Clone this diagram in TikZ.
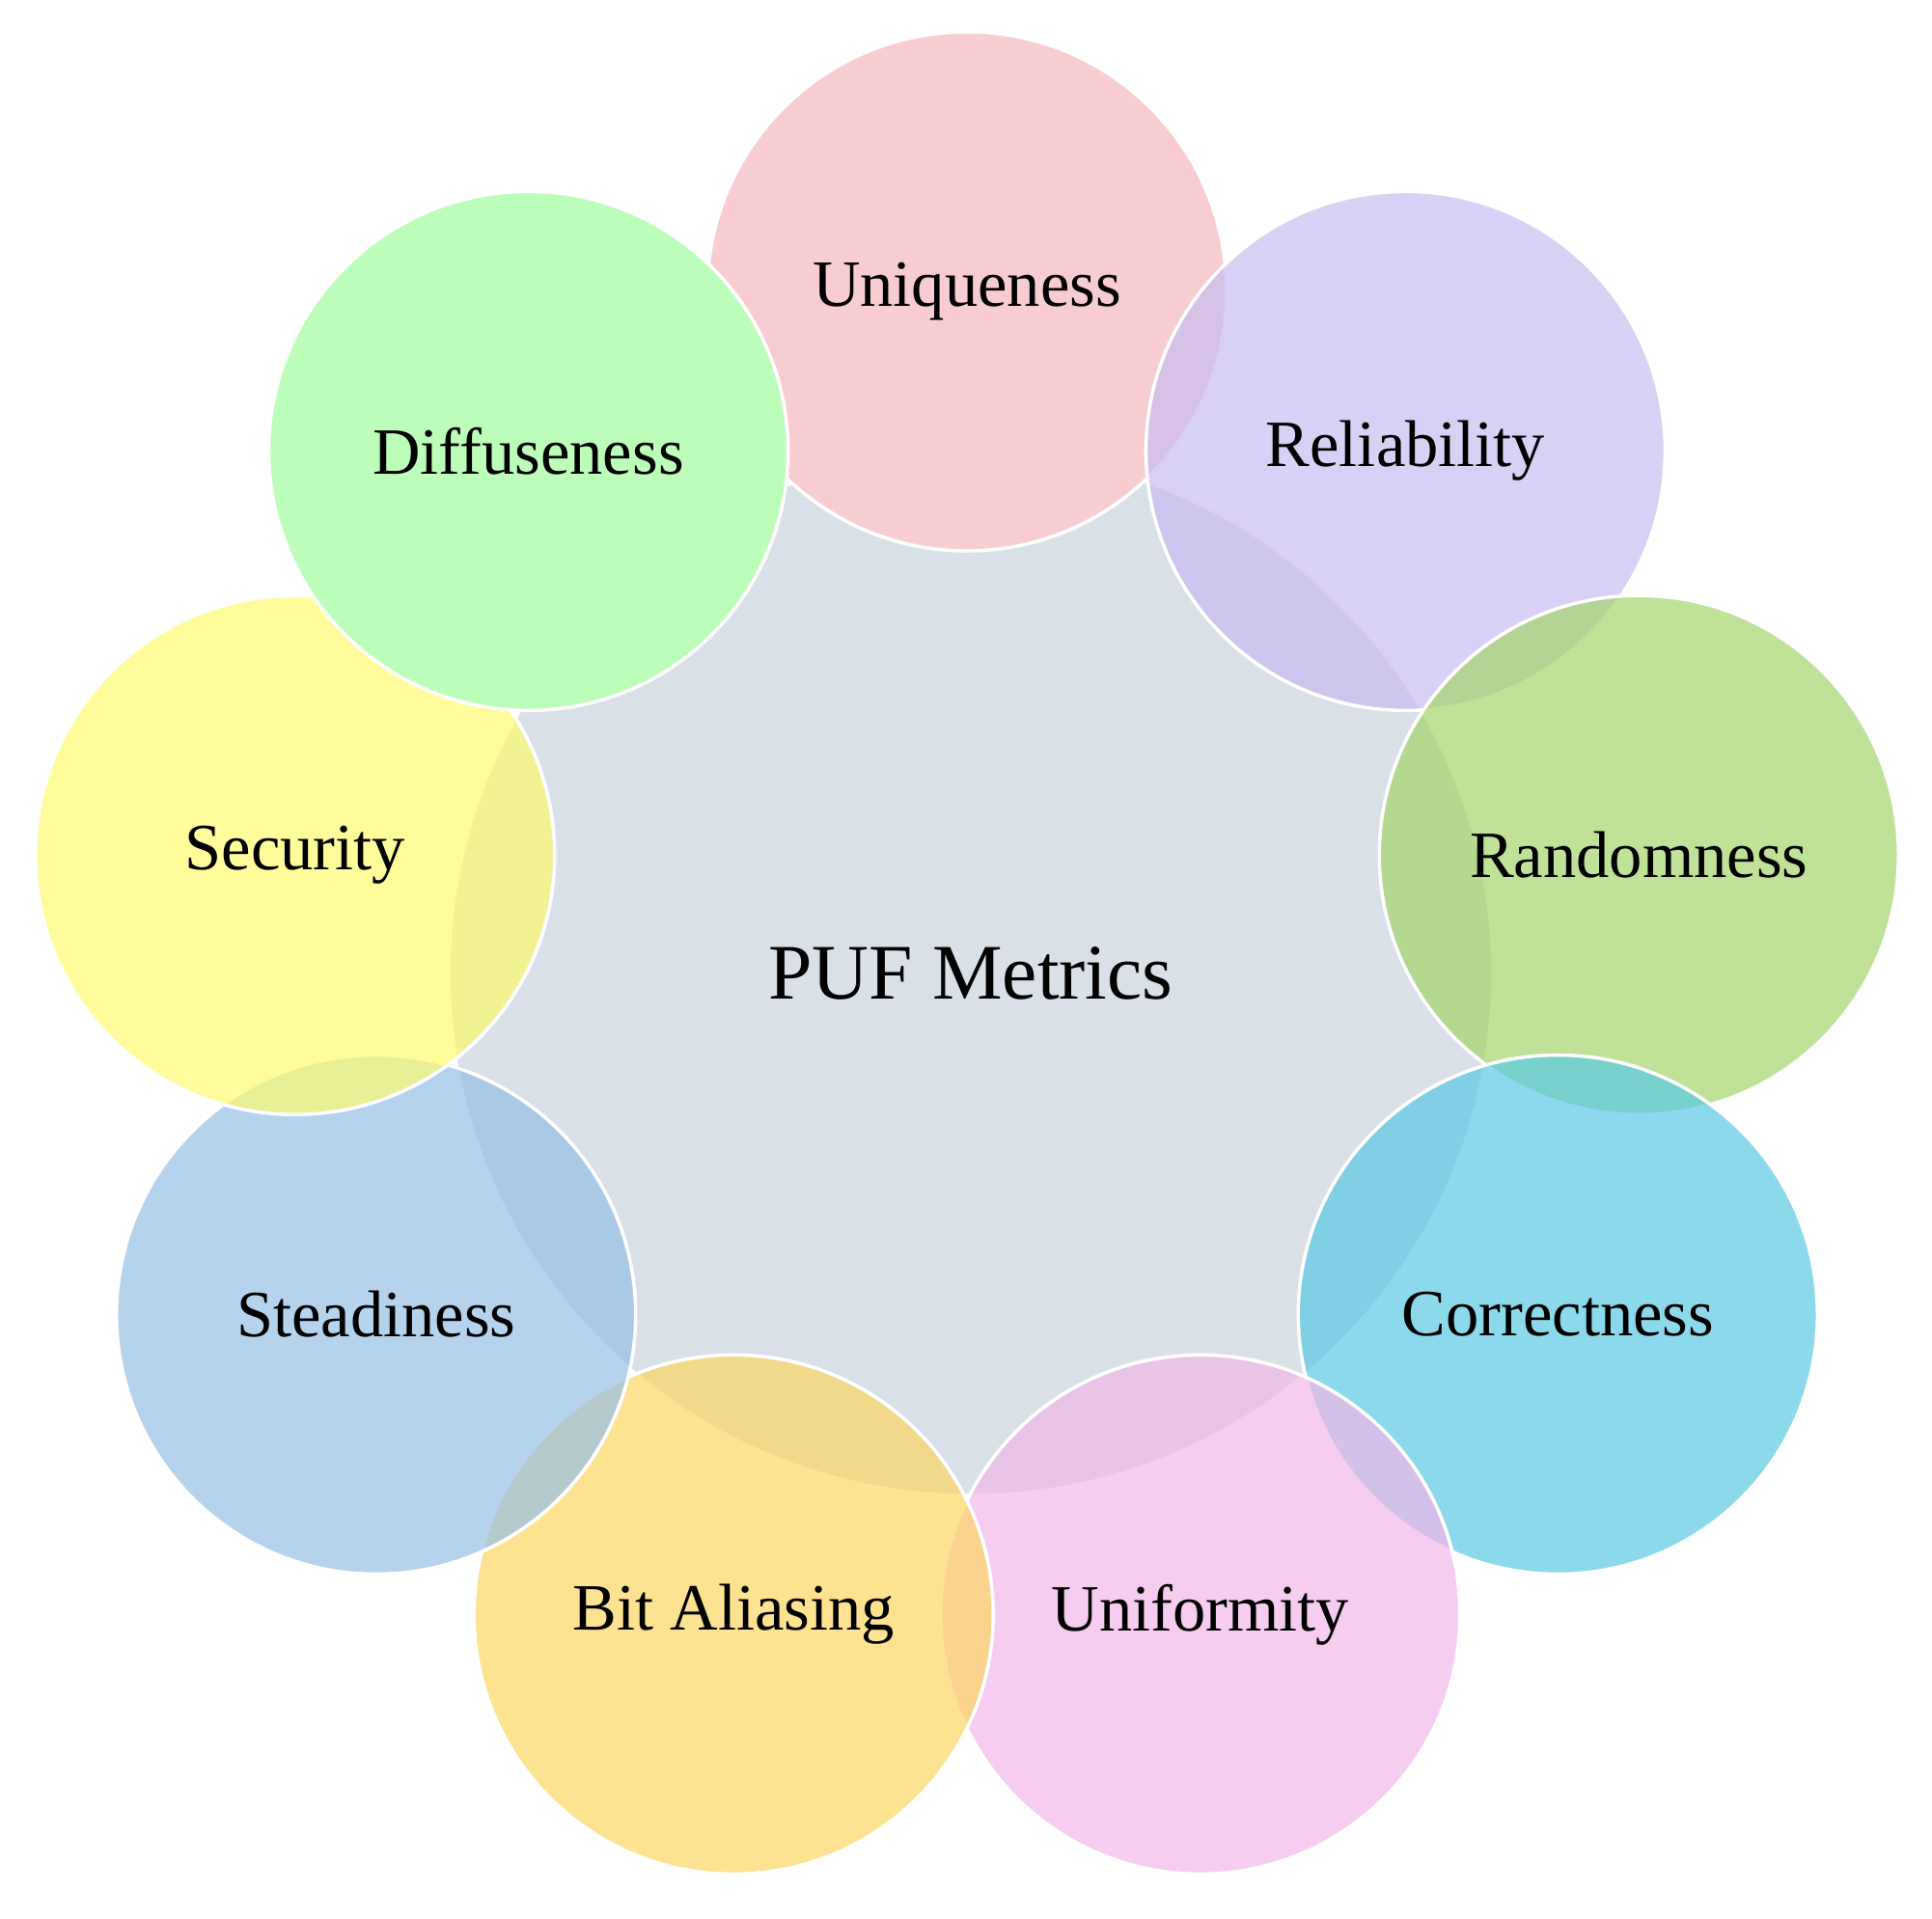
\documentclass[tikz,border=0pt]{standalone}
\usepackage{fontspec}
\setmainfont{Liberation Serif}
\usetikzlibrary{calc}
\definecolor{cCenter}{RGB}{218,224,232}
\definecolor{cUniq}{RGB}{248,205,210}
\definecolor{cReli}{RGB}{201,188,241}
\definecolor{cRand}{RGB}{165,214,108}
\definecolor{cCorr}{RGB}{91,201,228}
\definecolor{cUnif}{RGB}{242,184,234}
\definecolor{cBit}{RGB}{252,214,99}
\definecolor{cStea}{RGB}{151,192,231}
\definecolor{cSecu}{RGB}{255,251,112}
\definecolor{cDiff}{RGB}{188,254,185}
\tikzset{
  petal/.style={circle, minimum size=5.38cm, inner sep=0pt, draw=white, line width=1pt,
    font=\fontsize{19.5pt}{23pt}\selectfont, text=black, text opacity=1},
  seethru/.style={fill opacity=0.7, draw opacity=1},
  hub/.style={circle, minimum size=10.82cm, inner sep=0pt, draw=white, line width=1pt,
    fill=cCenter, font=\fontsize{23.2pt}{27pt}\selectfont}
}
\begin{document}
\begin{tikzpicture}
\useasboundingbox (0,0) rectangle (20.02,-19.89);
\coordinate (O) at (10.02,-10.09);
\node[hub] (center) at ($(O)+(0.04,0)$) {PUF Metrics};
\node[petal, fill=cUniq] (uniq) at ($(O)+(90:7.07)$) {Uniqueness};
\node[petal, seethru, fill=cReli] (reli) at ($(O)+(50:7.07)$) {Reliability};
\node[petal, seethru, fill=cRand] (rand) at ($(O)+(10:7.07)$) {Randomness};
\node[petal, seethru, fill=cCorr] (corr) at ($(O)+(-30:7.07)$) {Correctness};
\node[petal, seethru, fill=cUnif] (unif) at ($(O)+(-70:7.07)$) {Uniformity};
\node[petal, seethru, fill=cBit] (bita) at ($(O)+(-110:7.07)$) {Bit Aliasing};
\node[petal, seethru, fill=cStea] (stea) at ($(O)+(-150:7.07)$) {Steadiness};
\node[petal, seethru, fill=cSecu] (secu) at ($(O)+(170:7.07)$) {Security};
\node[petal, fill=cDiff] (diff) at ($(O)+(130:7.07)$) {Diffuseness};
\end{tikzpicture}
\end{document}
